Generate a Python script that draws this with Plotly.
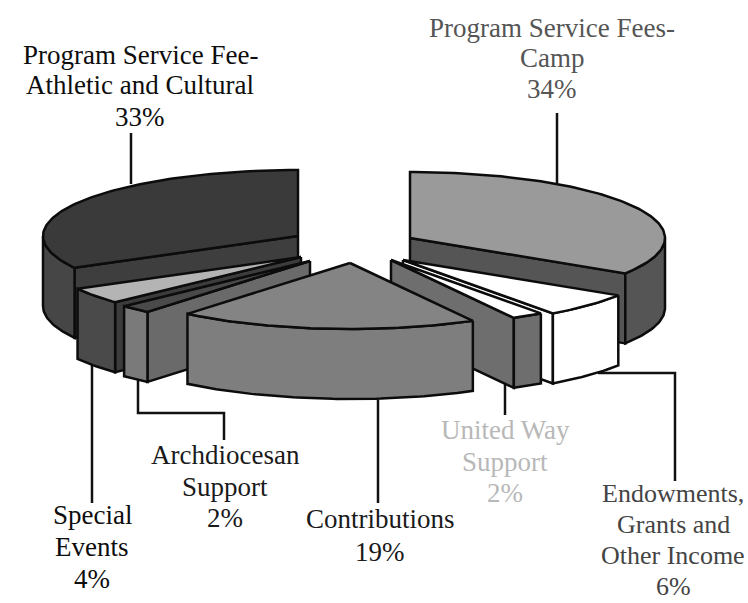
import numpy as np
import plotly.graph_objects as go

CATEGORIES = ["Program Service Fees-Camp", "Endowments, Grants and Other Income", "United Way Support",
              "Contributions", "Archdiocesan Support", "Special Events", "Program Service Fee-Athletic and Cultural"]
SHARES = [34, 6, 2, 19, 2, 4, 33]

RX, RY, DEPTH = 255, 66, 70
APEX = {0: (410, 238), 1: (403, 260), 2: (391, 260), 3: (350, 263), 4: (310, 261), 5: (301, 257), 6: (298, 236)}
# top, outer wall, cut-face colours
STYLE = {0: ("#9a9a9a", "#555555", "#555555"),
         1: ("#ffffff", "#ffffff", "#ffffff"),
         2: ("#ffffff", "#6e6e6e", "#6e6e6e"),
         3: ("#848484", "#7e7e7e", "#7e7e7e"),
         4: ("#4a4a4a", "#7a7a7a", "#6a6a6a"),
         5: ("#b4b4b4", "#4a4a4a", "#3c3c3c"),
         6: ("#3a3a3a", "#464646", "#3e3e3e")}
DRAW_ORDER = [6, 0, 5, 4, 1, 2, 3]

LABEL_LINES = [
    (["Program Service Fee-", "Athletic and Cultural", "33%"], 140, [55, 85, 117], "#0d0d0d", 27),
    (["Program Service Fees-", "Camp", "34%"], 552, [28, 58, 89], "#555555", 27),
    (["Contributions", "19%"], 380, [519, 552], "#1a1a1a", 27),
    (["Archdiocesan", "Support", "2%"], 225, [455, 487, 518], "#1a1a1a", 27),
    (["Special", "Events", "4%"], 92, [515, 547, 579], "#0d0d0d", 27),
    (["United Way", "Support", "2%"], 505, [430, 462, 493], "#b8b8b8", 27),
    (["Endowments,", "Grants and", "Other Income", "6%"], 673, [493, 524, 555, 586], "#444444", 26),
]
LEADERS = [
    ([131, 131], [133, 184]),
    ([557, 557], [113, 183]),
    ([378, 378], [400, 503]),
    ([505, 505], [384, 415]),
    ([92, 92], [362, 503]),
    ([138, 138, 224, 224], [380, 413, 413, 440]),
    ([598, 675, 675], [373, 373, 481]),
]

edges = np.cumsum([0] + SHARES) * 360.0 / sum(SHARES)


def rim(cx, cy, a0, a1):
    t = np.radians(np.linspace(a0, a1, max(3, int(abs(a1 - a0)) + 2)))
    return cx + RX * np.sin(t), cy - RY * np.cos(t)


def poly(fig, x, y, fill, name):
    x = list(x) + [x[0]]
    y = list(y) + [y[0]]
    fig.add_trace(go.Scatter(x=x, y=y, mode="lines", fill="toself", fillcolor=fill, name=name,
                             line=dict(color="#0c0c0c", width=2.5), hoverinfo="name", showlegend=False))


fig = go.Figure()
for xs, ys in LEADERS:
    fig.add_trace(go.Scatter(x=xs, y=ys, mode="lines", line=dict(color="#111111", width=2.5),
                             hoverinfo="skip", showlegend=False))

for i in DRAW_ORDER:
    cx, cy = APEX[i]
    a0, a1 = edges[i], edges[i + 1]
    top, wall, cut = STYLE[i]
    name = CATEGORIES[i]
    # only the radial cut faces that look towards the viewer
    visible = []
    if np.sin(np.radians(a0)) < -1e-9:
        visible.append(a0)
    if np.sin(np.radians(a1)) > 1e-9:
        visible.append(a1)
    for ang in visible:
        ex, ey = rim(cx, cy, ang, ang + 0.001)
        ex, ey = ex[0], ey[0]
        poly(fig, [cx, ex, ex, cx], [cy, ey, ey + DEPTH, cy + DEPTH], cut, name)
    # outer wall, front half only
    lo, hi = max(a0, 90), min(a1, 270)
    if hi > lo:
        wx, wy = rim(cx, cy, lo, hi)
        poly(fig, list(wx) + list(wx[::-1]), list(wy) + list((wy + DEPTH)[::-1]), wall, name)
    # top face
    tx, ty = rim(cx, cy, a0, a1)
    poly(fig, [cx] + list(tx), [cy] + list(ty), top, name)

for lines, x, ys, color, size in LABEL_LINES:
    for text, y in zip(lines, ys):
        fig.add_annotation(x=x, y=y, text=text, showarrow=False, xanchor="center", yanchor="middle",
                           align="center", font=dict(family="Liberation Serif", size=size, color=color))

fig.update_xaxes(range=[0, 748], visible=False, fixedrange=True)
fig.update_yaxes(range=[603, 0], visible=False, fixedrange=True)
fig.update_layout(width=748, height=603, margin=dict(l=0, r=0, t=0, b=0),
                  paper_bgcolor="white", plot_bgcolor="white", showlegend=False)
# remove the page's default body margin so axis units equal page pixels
fig.write_html("out.html", config={"displayModeBar": False},
               post_script="document.body.style.margin='0';document.body.style.overflow='hidden';")
